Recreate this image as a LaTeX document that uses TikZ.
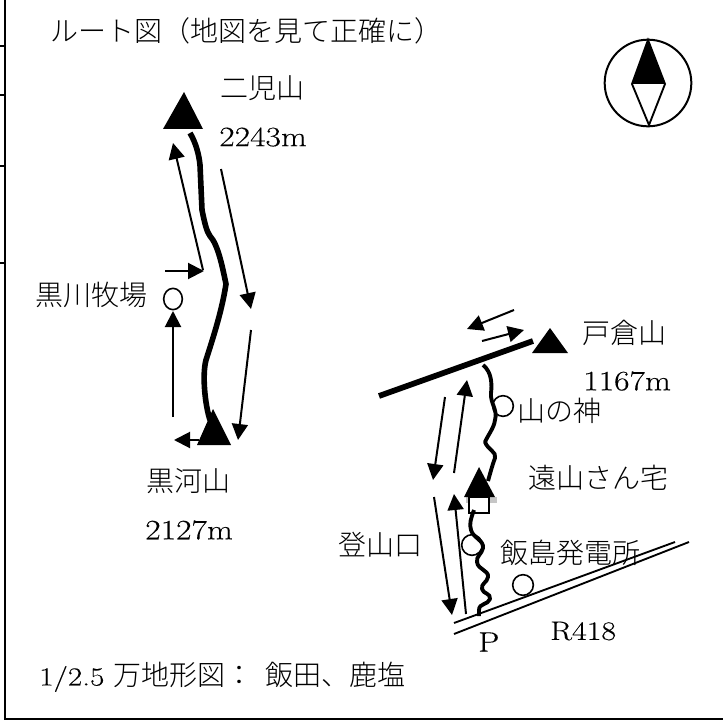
\documentclass[tikz,border=0pt]{standalone}
\usepackage{fontspec}
\newfontfamily\cjk{Noto Sans CJK JP Light}
\newfontfamily\numf[FakeStretch=1.2,FakeBold=0.25]{Latin Modern Roman}
\usetikzlibrary{arrows.meta,shapes.geometric}
\tikzset{
  x=0.75pt,y=-0.75pt,
  frame/.style={line width=1.6pt},
  jlabel/.style={font=\cjk\fontsize{21}{24}\selectfont,inner sep=0pt,anchor=west},
  num/.style={font=\numf\fontsize{21}{24}\selectfont,inner sep=0pt,anchor=west},
  arr/.style={line width=1.5pt,-{Triangle[length=12pt,width=12pt]}},
  trail/.style={line width=4.2pt},
  wavy/.style={line width=2.9pt},
  peak/.style={fill=black,draw=none},
  spot/.style={draw,circle,line width=1.2pt,fill=white,inner sep=0pt,minimum size=15.5pt},
  road/.style={line width=1.4pt},
}
\begin{document}
\begin{tikzpicture}
\useasboundingbox (0,0) rectangle (723,720);
\fill[white] (0,0) rectangle (723,720);
% frame
\coordinate (fa) at (5,0); \coordinate (fb) at (5,719); \coordinate (fc) at (723,719);
\draw[frame] (fa) -- (fb) -- (fc);
\foreach \y in {46,95,166,263} \draw[frame] (0,\y) -- (5,\y);
% labels
\node[jlabel] (title) at (50,31) {ルート図（地図を見て正確に）};
\node[jlabel] (nigo) at (220,88) {二児山};
\node[num] (nigom) at (219,137) {2243m};
\node[jlabel] (makiba) at (35,295) {黒川牧場};
\node[jlabel] (kuro) at (146,481) {黒河山};
\node[num] (kurom) at (145,530) {2127m};
\node[jlabel] (tokura) at (582,333) {戸倉山};
\node[num] (tokuram) at (583,381) {1167m};
\node[jlabel] (yama) at (517,411) {山の神};
\node[jlabel] (toyama) at (528,478) {遠山さん宅};
\node[jlabel] (tozan) at (338,545) {登山口};
\node[num,font=\numf\fontsize{20}{24}\selectfont] (r) at (550,631) {R418};
\node[num] (p) at (478,642) {P};
\node (scale) [jlabel] at (39,677) {{\numf\fontsize{19.5}{24}\selectfont 1/2.5}\hspace{7pt}万地形図：\hspace{9pt}飯田、鹿塩};
% compass
\node[draw,circle,line width=1.5pt,minimum size=65pt,inner sep=0pt] (compass) at (648,83) {};
\coordinate (cn) at (648,40); \coordinate (ce) at (665,84); \coordinate (cs) at (649,125); \coordinate (cw) at (632,84);
\fill (cn) -- (ce) -- (cw) -- cycle;
\draw[line width=1.4pt,line join=miter] (cn) -- (ce) -- (cs) -- (cw) -- cycle;
% peaks
\fill[peak] (184,92) -- (203,129) -- (163,129) -- cycle;
\fill[peak] (213,409) -- (231,445) -- (197,445) -- cycle;
\fill[peak] (550,328) -- (568,353) -- (532,353) -- cycle;
% left trail
\draw[trail,line join=round] (190,133) .. controls (196,143) and (199,155) .. (200,165) -- (202,210) .. controls (205,225) and (207,232) .. (210,236) .. controls (218,245) and (222,265) .. (226,284) .. controls (222,310) and (214,335) .. (206,360) .. controls (202,375) and (205,405) .. (210,420);
\coordinate (a1s) at (203,270); \coordinate (a1e) at (173,143);
\draw[arr] (a1s) -- (a1e);
\coordinate (a2s) at (165,271); \coordinate (a2e) at (204,271);
\draw[arr] (a2s) -- (a2e);
\coordinate (a3s) at (221,169); \coordinate (a3e) at (251,309);
\draw[arr] (a3s) -- (a3e);
\coordinate (a4s) at (251,330); \coordinate (a4e) at (238,440);
\draw[arr] (a4s) -- (a4e);
\coordinate (a5s) at (173,417); \coordinate (a5e) at (173,311);
\draw[arr] (a5s) -- (a5e);
\coordinate (a6s) at (199,440); \coordinate (a6e) at (174,440);
\draw[arr] (a6s) -- (a6e);
\node[draw,ellipse,line width=1.2pt,minimum width=14pt,minimum height=16pt,inner sep=0pt] (kurospot) at (173,299) {};
% right
\coordinate (rda) at (379,396); \coordinate (rdb) at (533,341);
\draw[line width=4.3pt] (rda) -- (rdb);
\coordinate (b1s) at (514,310); \coordinate (b1e) at (467,329);
\draw[arr] (b1s) -- (b1e);
\coordinate (b2s) at (482,341); \coordinate (b2e) at (524,330);
\draw[arr] (b2s) -- (b2e);
\coordinate (b3s) at (445,397); \coordinate (b3e) at (433,480);
\draw[arr] (b3s) -- (b3e);
\coordinate (b4s) at (454,473); \coordinate (b4e) at (467,380);
\draw[arr] (b4s) -- (b4e);
\coordinate (b5s) at (434,497); \coordinate (b5e) at (452,615);
\draw[arr] (b5s) -- (b5e);
\coordinate (b6s) at (466,614); \coordinate (b6e) at (454,494);
\draw[arr] (b6s) -- (b6e);
% upper wavy trail
\node[spot] (yamaspot) at (503,406) {};
\draw[wavy,line join=round] (483,365) .. controls (492,372) and (492,385) .. (491,393) .. controls (490,403) and (498,410) .. (495,420) .. controls (494,428) and (488,435) .. (485,442) .. controls (488,450) and (497,452) .. (495,458) .. controls (492,466) and (490,474) .. (488,481);
% house
\fill[gray!45] (466,497) rectangle (497,503);
\fill[peak] (479,467) -- (495,497) -- (464,497) -- cycle;
\node[draw,line width=1.4pt,fill=white,minimum width=14.5pt,minimum height=11.5pt,inner sep=0pt] (house) at (479,505) {};
% road
\coordinate (ra) at (454,623); \coordinate (rb) at (675,542);
\coordinate (rc) at (454,634); \coordinate (rd) at (689,542);
\node[jlabel] (hatsuden) at (500,553) {飯島発電所};
\draw[road] (ra) -- (rb);
\draw[road] (rc) -- (rd);
\node[spot] (hatsu) at (523,585) {};
\node[spot,fill=none] (tozanspot) at (472,545) {};
% lower wavy trail
\draw[wavy,line join=round] (474,510) .. controls (471,518) and (469,524) .. (471,530) .. controls (473,538) and (484,540) .. (483,548) .. controls (482,554) and (476,556) .. (477,562) .. controls (478,570) and (489,570) .. (488,577) .. controls (487,583) and (481,583) .. (482,589) .. controls (483,594) and (491,593) .. (490,599) .. controls (488,605) and (479,603) .. (479,610) -- (479,616);
\end{tikzpicture}
\end{document}
